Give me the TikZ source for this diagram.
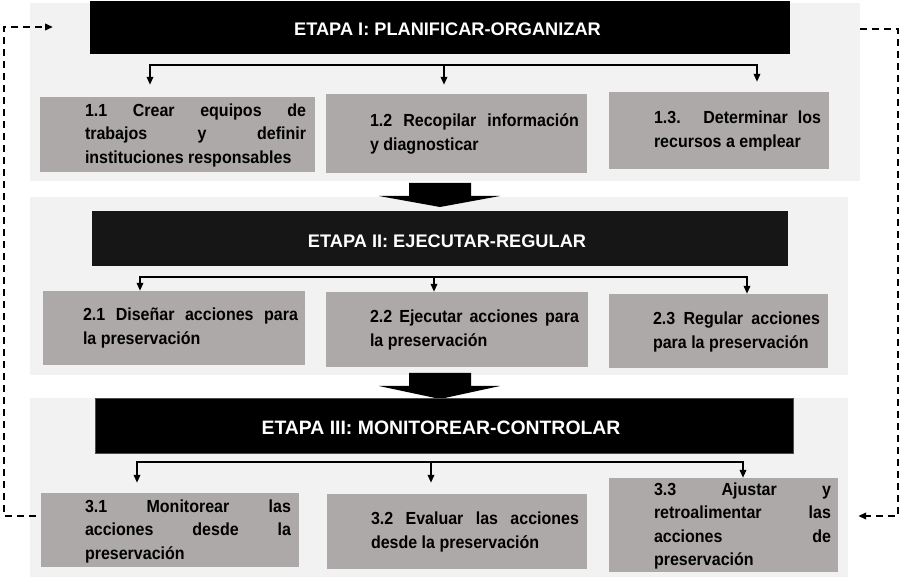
\documentclass[tikz,border=0pt]{standalone}
\usepackage{fontspec}
\setmainfont{Liberation Sans}
\newfontfamily\boxfont[FakeStretch=0.915]{Liberation Sans}
\usetikzlibrary{arrows.meta}
\definecolor{panelbg}{RGB}{242,242,242}
\definecolor{boxfill}{RGB}{173,169,168}
\definecolor{bartwo}{RGB}{22,22,22}
\tolerance=10000
\hyphenpenalty=10000
\begin{document}
\begin{tikzpicture}[x=1pt,y=-1pt,
  panel/.style={fill=panelbg, draw=none, inner sep=0pt},
  titlebar/.style={fill=black, inner sep=0pt},
  titletext/.style={text=white, inner sep=0pt, font=\fontsize{18.2}{21}\selectfont\bfseries},
  graybox/.style={fill=boxfill, inner sep=0pt},
  boxtext/.style={inner sep=0pt, align=justify, font=\fontsize{17.5}{23.5}\boxfont\bfseries},
  conn/.style={line width=1.8pt, line join=miter},
  tipshape/.style={-{Triangle[length=8pt,width=6.5pt]}},
  fb/.style={line width=2pt, dash pattern=on 7pt off 5pt, -{Triangle[length=8pt,width=6.5pt]}},
  blockarrow/.style={fill=black}
]
\useasboundingbox (0,0) rectangle (900,585);

% panels
\node[panel, minimum width=830pt, minimum height=178pt] (p1) at (445,92) {};
\node[panel, minimum width=818pt, minimum height=178pt] (p2) at (439,286) {};
\node[panel, minimum width=818pt, minimum height=179pt] (p3) at (439,487.5) {};

% block arrows between stages
\fill[blockarrow] (409,183) -- (471,183) -- (471,196) -- (500,196) -- (440,207) -- (379,196) -- (409,196) -- cycle;
\fill[blockarrow] (409,373) -- (471,373) -- (471,386) -- (500,386) -- (440,399) -- (379,386) -- (409,386) -- cycle;

% title bars
\node[titlebar, minimum width=700pt, minimum height=53pt] (t1) at (440,27.5) {};
\node[titletext] (t1txt) at (447.5,29) {ETAPA I: PLANIFICAR-ORGANIZAR};
\node[titlebar, fill=bartwo, minimum width=696pt, minimum height=55pt] (t2) at (440,238.5) {};
\node[titletext] (t2txt) at (447,241) {ETAPA II: EJECUTAR-REGULAR};
\node[titlebar, draw=black!70, line width=1pt, minimum width=698pt, minimum height=55pt] (t3) at (444,425.5) {};
\node[titletext, font=\fontsize{19.4}{22}\selectfont\bfseries] (t3txt) at (441,427.5) {ETAPA III: MONITOREAR-CONTROLAR};

% stage I boxes
\node[graybox, minimum width=275pt, minimum height=75pt] (b11) at (177.5,134.5) {};
\node[boxtext, text width=221pt] (b11t) at (195.5,135) {1.1 Crear equipos de\linebreak trabajos y definir\linebreak instituciones responsables};
\node[graybox, minimum width=261pt, minimum height=79pt] (b12) at (456.5,133.5) {};
\node[boxtext, text width=209pt] (b12t) at (474.5,134) {1.2 Recopilar información\linebreak y diagnosticar};
\node[graybox, minimum width=220pt, minimum height=77pt] (b13) at (719,130.5) {};
\node[boxtext, text width=167pt] (b13t) at (737.5,131) {1.3. Determinar los\linebreak recursos a emplear};

% stage II boxes
\node[graybox, minimum width=262pt, minimum height=74pt] (b21) at (174,328) {};
\node[boxtext, text width=215pt] (b21t) at (190.5,328) {2.1 Diseñar acciones para\linebreak la preservación};
\node[graybox, minimum width=262pt, minimum height=75pt] (b22) at (457,329.5) {};
\node[boxtext, text width=209pt] (b22t) at (474.5,330) {2.2 Ejecutar acciones para\linebreak la preservación};
\node[graybox, minimum width=219pt, minimum height=74pt] (b23) at (718.5,331) {};
\node[boxtext, text width=167pt] (b23t) at (736.5,332) {2.3 Regular acciones\linebreak para la preservación};

% stage III boxes
\node[graybox, minimum width=258pt, minimum height=74pt] (b31) at (170,530) {};
\node[boxtext, text width=206pt] (b31t) at (188,531) {3.1 Monitorear las\linebreak acciones desde la\linebreak preservación};
\node[graybox, minimum width=260pt, minimum height=75pt] (b32) at (457,531.5) {};
\node[boxtext, text width=208pt] (b32t) at (475,532) {3.2 Evaluar las acciones\linebreak desde la preservación};
\node[graybox, minimum width=229pt, minimum height=94pt] (b33) at (723.5,525) {};
\node[boxtext, text width=177pt] (b33t) at (742.5,526) {3.3 Ajustar y\linebreak retroalimentar las\linebreak acciones de\linebreak preservación};

% connectors stage I
\coordinate (j1a) at (150,65);
\coordinate (j1b) at (444,65);
\coordinate (j1c) at (757,65);
\draw[conn, {Triangle[length=8pt,width=6.5pt]}-{Triangle[length=8pt,width=6.5pt]}, shorten <=12pt, shorten >=10pt]
  (j1a |- b11.north) -- (j1a) -- (j1c) -- (j1c |- b13.north);
\draw[conn, tipshape, shorten >=9pt] (j1b) -- (j1b |- b12.north);

% connectors stage II
\coordinate (j2a) at (140,277);
\coordinate (j2b) at (434,277);
\coordinate (j2c) at (747,277);
\draw[conn, {Triangle[length=8pt,width=6.5pt]}-{Triangle[length=8pt,width=6.5pt]}]
  (j2a |- b21.north) -- (j2a) -- (j2c) -- (j2c |- b23.north);
\draw[conn, tipshape] (j2b) -- (j2b |- b22.north);

% connectors stage III
\coordinate (j3a) at (137,462);
\coordinate (j3b) at (431,462);
\coordinate (j3c) at (743,462);
\draw[conn, {Triangle[length=8pt,width=6.5pt]}-{Triangle[length=8pt,width=6.5pt]}, shorten <=10pt]
  (j3a |- b31.north) -- (j3a) -- (j3c) -- (j3c |- b33.north);
\draw[conn, tipshape, shorten >=11pt] (j3b) -- (j3b |- b32.north);

% feedback dashed loops
\coordinate (fbL1) at (4,516);
\coordinate (fbL2) at (4,27);
\coordinate (fbLend) at (53,27);
\draw[fb] ([yshift=14pt,xshift=-5pt]b31.west) -- (fbL1) -- (fbL2) -- (fbLend);
\coordinate (fbR1) at (898,29);
\coordinate (fbR2) at (898,516);
\draw[fb, shorten >=10pt] ([yshift=63pt]p1.east) -- (fbR1) -- (fbR2) -- ([yshift=-28.5pt]p3.east);
\end{tikzpicture}
\end{document}
